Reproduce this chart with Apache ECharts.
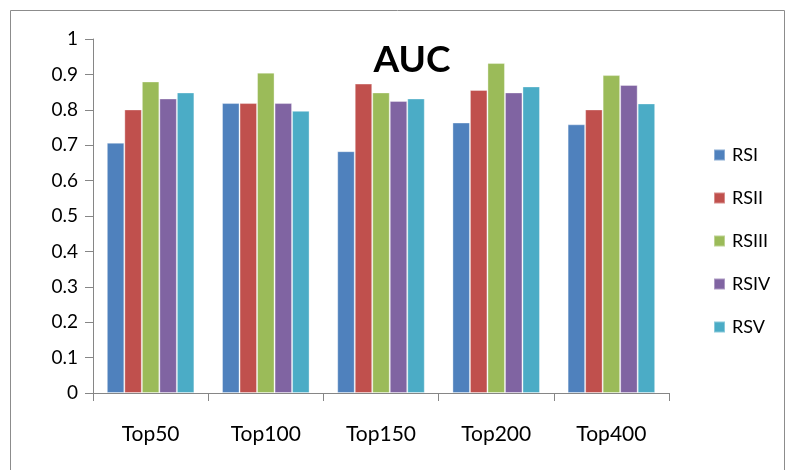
<!DOCTYPE html>
<html>
<head>
<meta charset="utf-8">
<script src="https://cdn.jsdelivr.net/npm/echarts@6/dist/echarts.min.js"></script>
<style>
  html, body { margin: 0; padding: 0; background: #fff; }
  #chart { width: 790px; height: 470px; }
</style>
</head>
<body>
<div id="chart"></div>
<script>
// AUC per ranking method and list size
var categories = ['Top50', 'Top100', 'Top150', 'Top200', 'Top400'];
var seriesNames = ['RSI', 'RSII', 'RSIII', 'RSIV', 'RSV'];
var rsi   = [0.707, 0.819, 0.683, 0.764, 0.759];
var rsii  = [0.801, 0.819, 0.874, 0.856, 0.801];
var rsiii = [0.880, 0.905, 0.849, 0.932, 0.898];
var rsiv  = [0.832, 0.819, 0.825, 0.849, 0.870];
var rsv   = [0.849, 0.797, 0.832, 0.866, 0.818];
var yTicks = [0, 0.1, 0.2, 0.3, 0.4, 0.5, 0.6, 0.7, 0.8, 0.9, 1];

var values = [rsi, rsii, rsiii, rsiv, rsv];
var colors = ['#4F81BD', '#C0504D', '#9BBB59', '#8064A2', '#4BACC6'];
var font = 'Lato, "Open Sans", sans-serif';

var chart = echarts.init(document.getElementById('chart'), null, { renderer: 'canvas' });

var series = seriesNames.map(function (name, i) {
  return {
    name: name,
    type: 'bar',
    data: values[i],
    barGap: '0%',
    barCategoryGap: '24%',
    itemStyle: { color: colors[i], borderColor: 'rgba(255,255,255,0.35)', borderWidth: 1 }
  };
});

chart.setOption({
  animation: false,
  backgroundColor: '#fff',
  graphic: [{
    type: 'rect',
    shape: { x: 10.5, y: 10.5, width: 774, height: 470 },
    style: { fill: 'none', stroke: '#8c8c8c', lineWidth: 1 },
    silent: true
  }],
  title: {
    text: 'AUC',
    left: 407,
    top: 37,
    textAlign: 'center',
    textStyle: { fontFamily: font, fontWeight: 'bold', fontSize: 37, color: '#000' }
  },
  legend: {
    orient: 'vertical',
    left: 708,
    top: 141,
    itemGap: 25,
    itemWidth: 11,
    itemHeight: 11,
    icon: 'rect',
    data: seriesNames,
    textStyle: { fontFamily: font, fontSize: 18, color: '#000', padding: [0, 0, 0, 2] }
  },
  grid: { left: 93, right: 121, top: 39, bottom: 77 },
  xAxis: {
    type: 'category',
    data: categories,
    axisLine: { lineStyle: { color: '#868686', width: 1 } },
    axisTick: { show: true, length: 8, lineStyle: { color: '#868686' } },
    axisLabel: { fontFamily: font, fontSize: 21, color: '#000', margin: 31 },
    splitLine: { show: false }
  },
  yAxis: {
    type: 'value',
    min: yTicks[0],
    max: yTicks[yTicks.length - 1],
    interval: 0.1,
    axisLine: { show: true, lineStyle: { color: '#868686', width: 1 } },
    axisTick: { show: true, length: 8, lineStyle: { color: '#868686' } },
    axisLabel: {
      fontFamily: font, fontSize: 19, color: '#000', margin: 15,
      formatter: function (v) { return String(Math.round(v * 10) / 10); }
    },
    splitLine: { show: false }
  },
  series: series
});
</script>
</body>
</html>
